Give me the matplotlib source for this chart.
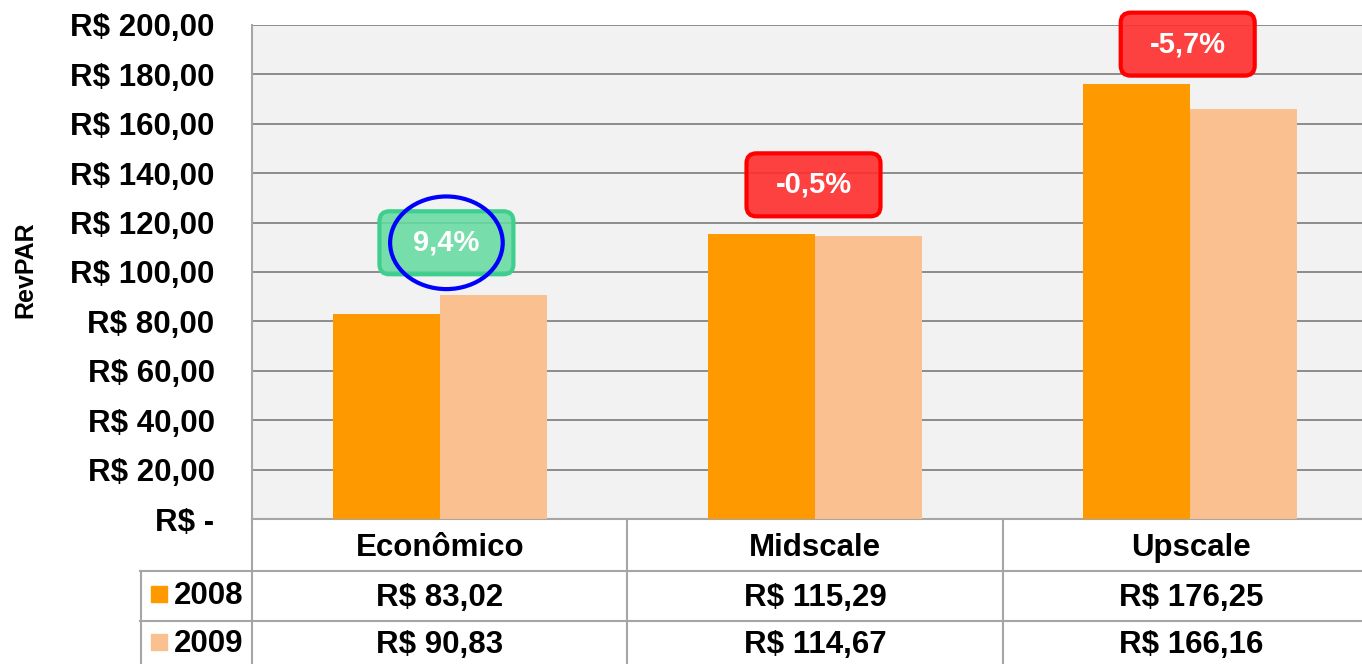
import matplotlib
matplotlib.use("Agg")
import matplotlib.pyplot as plt
import matplotlib.transforms as mtrans
from matplotlib.lines import Line2D
from matplotlib.patches import FancyBboxPatch, Ellipse, Rectangle
import numpy as np

# data
categories = ["Econômico", "Midscale", "Upscale"]
years = ["2008", "2009"]
revpar_2008 = [83.02, 115.29, 176.25]
revpar_2009 = [90.83, 114.67, 166.16]
yticks = [0, 20, 40, 60, 80, 100, 120, 140, 160, 180, 200]

c2008 = "#ff9900"
c2009 = "#fac090"
grid_c = "#8c8c8c"
line_c = "#a6a6a6"

plt.rcParams["font.family"] = ["Liberation Sans", "DejaVu Sans"]
plt.rcParams["font.weight"] = "bold"

W, H = 1362, 664
fig = plt.figure(figsize=(W / 100, H / 100), dpi=100)


def fx(x):
    return x / W


def fy(y):
    return 1 - y / H


# axes extends past the right edge like in the original slide
ax = fig.add_axes([fx(252), fy(519), (1378 - 252) / W, (519 - 25) / H])
ax.set_facecolor("#f2f2f2")

x = np.arange(len(categories))
bw = 0.285
ax.bar(x - bw / 2, revpar_2008, bw, color=c2008, zorder=3)
ax.bar(x + bw / 2, revpar_2009, bw, color=c2009, zorder=3)

ax.set_xlim(-0.5, 2.5)
ax.set_ylim(0, 200)
ax.set_yticks(yticks)
ax.set_yticklabels(["R$ -" if v == 0 else "R$ %d,00" % v for v in yticks],
                   fontsize=22.5, fontweight="bold")
ax.tick_params(axis="y", length=0, pad=27)
ax.set_xticks([])
ax.yaxis.grid(True, color=grid_c, lw=1.4, zorder=0)
for s in ["top", "right"]:
    ax.spines[s].set_visible(False)
ax.spines["left"].set_color(line_c)
ax.spines["left"].set_linewidth(1.5)
ax.spines["bottom"].set_color(line_c)
ax.spines["bottom"].set_linewidth(1.5)

fig.text(fx(25), fy(270), "RevPAR", rotation=90, ha="center", va="center",
         fontsize=18, fontweight="bold")

# change labels (boxes in pixel size, anchored at data points)
offsets = [21, 20, 16]
label_dx = [0.018, -0.004, -0.007]
for i in range(len(categories)):
    chg = (revpar_2009[i] / revpar_2008[i] - 1) * 100
    txt = ("%.1f%%" % chg).replace(".", ",")
    xc = i + label_dx[i]
    ytop = max(revpar_2008[i], revpar_2009[i]) + offsets[i]
    if chg >= 0:
        face, edge = (0.40, 0.86, 0.63, 0.88), "#3ecf8e"
    else:
        face, edge = (1.0, 0.18, 0.18, 0.9), "#ff0000"
    tr = fig.dpi_scale_trans + mtrans.ScaledTranslation(xc, ytop, ax.transData)
    box = FancyBboxPatch((-0.67, -0.315), 1.34, 0.63,
                         boxstyle="round,pad=0,rounding_size=0.1",
                         transform=tr, facecolor=face, edgecolor=edge,
                         lw=3, zorder=5, clip_on=False)
    ax.add_patch(box)
    ax.text(xc, ytop, txt, ha="center", va="center", color="white",
            fontsize=21, fontweight="bold", zorder=6)
    if chg >= 0:
        ax.add_patch(Ellipse((xc, ytop), 0.30, 37.5, fill=False,
                             edgecolor="#0000ff", lw=3, zorder=7))

# data table below the axis
def hline(y, x0, x1):
    fig.add_artist(Line2D([fx(x0), fx(x1)], [fy(y), fy(y)], color=line_c, lw=1.5))


def vline(xp, y0, y1):
    fig.add_artist(Line2D([fx(xp), fx(xp)], [fy(y0), fy(y1)], color=line_c, lw=1.5))


hline(571, 140, W)
hline(621, 140, W)
vline(252, 519, H)
vline(627, 519, H)
vline(1003, 519, H)
vline(141, 571, H)

col_x = [440, 815, 1191]
fs = 22.5
for cx, cat, v8, v9 in zip(col_x, categories, revpar_2008, revpar_2009):
    fig.text(fx(cx), fy(548), cat, ha="center", va="center", fontsize=fs, fontweight="bold")
    fig.text(fx(cx), fy(598), ("R$ %.2f" % v8).replace(".", ","), ha="center",
             va="center", fontsize=fs, fontweight="bold")
    fig.text(fx(cx), fy(645), ("R$ %.2f" % v9).replace(".", ","), ha="center",
             va="center", fontsize=fs, fontweight="bold")

for yc, yr, col in zip([594, 642], years, [c2008, c2009]):
    fig.add_artist(Rectangle((fx(151), fy(yc + 8)), 16 / W, 16 / H, color=col,
                             transform=fig.transFigure))
    fig.text(fx(174), fy(yc + 2), yr, ha="left", va="center", fontsize=fs, fontweight="bold")

fig.savefig("out.png", dpi=100, facecolor="white")
